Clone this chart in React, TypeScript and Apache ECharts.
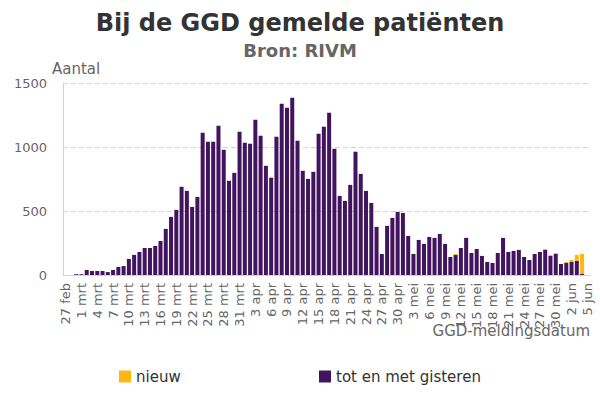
import React, { useEffect, useRef } from "react";
import * as echarts from "echarts";

const categories: string[] = [
  "27 feb", "28 feb", "29 feb",
  "1 mrt", "2 mrt", "3 mrt", "4 mrt", "5 mrt", "6 mrt", "7 mrt", "8 mrt", "9 mrt", "10 mrt",
  "11 mrt", "12 mrt", "13 mrt", "14 mrt", "15 mrt", "16 mrt", "17 mrt", "18 mrt", "19 mrt", "20 mrt",
  "21 mrt", "22 mrt", "23 mrt", "24 mrt", "25 mrt", "26 mrt", "27 mrt", "28 mrt", "29 mrt", "30 mrt", "31 mrt",
  "1 apr", "2 apr", "3 apr", "4 apr", "5 apr", "6 apr", "7 apr", "8 apr", "9 apr", "10 apr",
  "11 apr", "12 apr", "13 apr", "14 apr", "15 apr", "16 apr", "17 apr", "18 apr", "19 apr", "20 apr",
  "21 apr", "22 apr", "23 apr", "24 apr", "25 apr", "26 apr", "27 apr", "28 apr", "29 apr", "30 apr",
  "1 mei", "2 mei", "3 mei", "4 mei", "5 mei", "6 mei", "7 mei", "8 mei", "9 mei", "10 mei",
  "11 mei", "12 mei", "13 mei", "14 mei", "15 mei", "16 mei", "17 mei", "18 mei", "19 mei", "20 mei",
  "21 mei", "22 mei", "23 mei", "24 mei", "25 mei", "26 mei", "27 mei", "28 mei", "29 mei", "30 mei", "31 mei",
  "1 jun", "2 jun", "3 jun", "4 jun", "5 jun",
];

// tot en met gisteren
const totEnMetGisteren: number[] = [
  0, 0, 6, 6, 39, 31, 31, 31, 23, 39,
  63, 70, 125, 157, 180, 211, 211, 227, 266, 360,
  454, 509, 689, 657, 532, 610, 1111, 1041, 1041, 1166,
  978, 736, 798, 1119, 1033, 1025, 1213, 1088, 853, 759,
  1080, 1338, 1307, 1385, 1049, 814, 751, 806, 1104, 1158,
  1268, 986, 618, 579, 704, 963, 790, 657, 563, 376,
  164, 384, 446, 493, 485, 305, 164, 274, 243, 297,
  290, 321, 243, 141, 157, 211, 290, 172, 203, 149,
  102, 94, 172, 290, 180, 188, 196, 141, 117, 164,
  180, 196, 149, 164, 86, 94, 102, 110, 8, 0,
];

// nieuw
const nieuw: number[] = [
  0, 0, 0, 0, 0, 0, 0, 0, 0, 0,
  0, 0, 0, 0, 0, 0, 0, 0, 0, 0,
  0, 0, 0, 0, 0, 0, 0, 0, 0, 0,
  0, 0, 0, 0, 0, 0, 0, 0, 0, 8,
  0, 0, 0, 0, 0, 0, 0, 0, 0, 0,
  0, 0, 0, 0, 0, 0, 0, 0, 0, 0,
  0, 0, 0, 0, 0, 0, 0, 0, 0, 0,
  0, 0, 0, 0, 8, 0, 0, 0, 0, 0,
  0, 0, 0, 0, 0, 0, 0, 0, 0, 0,
  0, 8, 8, 8, 0, 8, 16, 47, 157, 0,
];

const FONT = "DejaVu Sans";
const PURPLE = "#42145f";
const ORANGE = "#ffb612";
const AXIS_COLOR = "#c6d3e3";

export default function App() {
  const ref = useRef<HTMLDivElement>(null);

  useEffect(() => {
    document.body.style.margin = "0";
    if (!ref.current) return;
    const chart = echarts.init(ref.current, undefined, { renderer: "svg" });
    chart.setOption({
      animation: false,
      textStyle: { fontFamily: FONT },
      title: {
        text: "Bij de GGD gemelde patiënten",
        subtext: "Bron: RIVM",
        left: "center",
        top: 6,
        itemGap: 6,
        textStyle: { fontFamily: FONT, fontSize: 24, fontWeight: "bold", color: "#333333" },
        subtextStyle: { fontFamily: FONT, fontSize: 18, fontWeight: "bold", color: "#666666" },
      },
      legend: [
        {
          data: ["nieuw"],
          left: 114,
          top: 364,
          itemWidth: 12,
          itemHeight: 12,
          icon: "rect",
          textStyle: { fontFamily: FONT, fontSize: 15, color: "#333333" },
        },
        {
          data: ["tot en met gisteren"],
          left: 314,
          top: 364,
          itemWidth: 12,
          itemHeight: 12,
          icon: "rect",
          textStyle: { fontFamily: FONT, fontSize: 15, color: "#333333" },
        },
      ],
      graphic: [
        {
          type: "text",
          left: 52,
          top: 61,
          style: { text: "Aantal", fontFamily: FONT, fontSize: 15, fill: "#666666" },
        },
        {
          type: "text",
          right: 10,
          top: 323,
          style: { text: "GGD-meldingsdatum", fontFamily: FONT, fontSize: 15, fill: "#666666" },
        },
      ],
      grid: { left: 63, right: 10, top: 83, bottom: 125, containLabel: false },
      xAxis: {
        type: "category",
        data: categories,
        boundaryGap: true,
        axisLine: { lineStyle: { color: AXIS_COLOR, width: 1 } },
        axisTick: { alignWithLabel: true, interval: 2, length: 3, lineStyle: { color: AXIS_COLOR } },
        axisLabel: {
          interval: 2,
          rotate: 90,
          margin: 8,
          fontFamily: FONT,
          fontSize: 13,
          color: "#666666",
        },
      },
      yAxis: {
        type: "value",
        min: 0,
        max: 1500,
        interval: 500,
        axisLine: { show: true, lineStyle: { color: AXIS_COLOR, width: 1 } },
        axisTick: { show: false },
        axisLabel: {
          fontFamily: FONT,
          fontSize: 13,
          color: "#666666",
          margin: 16,
          formatter: (v: number) => String(v),
        },
        splitLine: { lineStyle: { color: AXIS_COLOR, type: [5, 3], width: 1 } },
      },
      series: [
        {
          name: "tot en met gisteren",
          type: "bar",
          stack: "totaal",
          data: totEnMetGisteren,
          barCategoryGap: "24%",
          itemStyle: { color: PURPLE },
        },
        {
          name: "nieuw",
          type: "bar",
          stack: "totaal",
          data: nieuw,
          barCategoryGap: "24%",
          itemStyle: { color: ORANGE },
        },
      ],
    });
    return () => chart.dispose();
  }, []);

  return <div ref={ref} style={{ width: 600, height: 400 }} />;
}
